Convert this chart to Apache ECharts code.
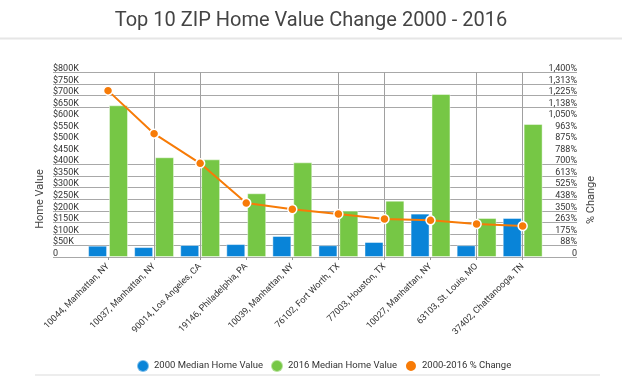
<!DOCTYPE html>
<html>
<head>
<meta charset="utf-8">
<script src="https://cdn.jsdelivr.net/npm/echarts@6/dist/echarts.min.js"></script>
<style>
html,body{margin:0;padding:0;background:#fff;}
#chart{width:622px;height:387px;}
</style>
</head>
<body>
<div id="chart"></div>
<script>
var categories = ['10044, Manhattan, NY','10037, Manhattan, NY','90014, Los Angeles, CA','19146, Philadelphia, PA','10039, Manhattan, NY','76102, Fort Worth, TX','77003, Houston, TX','10027, Manhattan, NY','63103, St. Louis, MO','37402, Chattanooga, TN'];
var value2000 = [49000, 43000, 52000, 56000, 91000, 51000, 65000, 188000, 51000, 169000];
var value2016 = [657000, 432000, 423000, 276000, 410000, 201000, 244000, 706000, 169000, 576000];
var pctChange = [1261, 935, 710, 409, 362, 326, 288, 278, 250, 235];
var seriesNames = ['2000 Median Home Value','2016 Median Home Value','2000-2016 % Change'];

var FONT = 'Roboto';
var gridColor = '#a8a8a8';
var yLineColors = [];
for (var i = 0; i <= 16; i++) { yLineColors.push((i >= 9 && i <= 12) ? 'rgba(0,0,0,0)' : gridColor); }
var xLineColors = [];
var visibleX = [3,5,11,13,17,19];
for (var k = 0; k <= 20; k++) { xLineColors.push(visibleX.indexOf(k) >= 0 ? '#a0a0a0' : 'rgba(0,0,0,0)'); }

var chart = echarts.init(document.getElementById('chart'), null, {renderer:'canvas'});
var TOP = 72.3, H = 184.7;
chart.setOption({
  animation: false,
  textStyle: {fontFamily: FONT},
  title: {
    text: 'Top 10 ZIP Home Value Change 2000 - 2016',
    left: 'center', top: 6,
    textStyle: {fontFamily: FONT, fontSize: 20, fontWeight: 'normal', color: '#444'}
  },
  legend: {
    data: seriesNames,
    left: 131, top: 354,
    icon: 'circle', itemWidth: 12, itemHeight: 12, itemGap: 7,
    textStyle: {fontFamily: FONT, fontSize: 9.5, color: '#333', padding: [0,0,0,0]}
  },
  graphic: [
    {type:'rect', shape:{x:0,y:37.5,width:622,height:2}, style:{fill:'#e6e6e6'}},
    {type:'rect', shape:{x:35,y:374.5,width:565,height:1}, style:{fill:'#dcdcdc'}},
    {type:'text', x:40.5, y:199, rotation:Math.PI/2, style:{text:'Home Value', fontFamily:FONT, fontSize:11, fill:'#444', align:'center', verticalAlign:'middle'}},
    {type:'text', x:591, y:200, rotation:Math.PI/2, style:{text:'% Change', fontFamily:FONT, fontSize:11, fill:'#444', align:'center', verticalAlign:'middle'}}
  ],
  grid: [
    {left: 53, right: 45, top: TOP, height: H},
    {left: 85, right: 76.3, top: TOP, height: H}
  ],
  xAxis: [
    {type:'value', gridIndex:0, show:false, min:0, max:1},
    {type:'category', gridIndex:1, data:categories, position:'bottom',
     axisLine:{show:false},
     axisTick:{show:true, alignWithLabel:true, length:3, lineStyle:{color:'#999'}},
     axisLabel:{rotate:45, fontFamily:FONT, fontSize:9, color:'#333', margin:8, interval:0},
     splitLine:{show:false}},
    {type:'value', gridIndex:1, position:'top', min:0, max:20, interval:1,
     axisLine:{show:false}, axisTick:{show:false}, axisLabel:{show:false},
     splitLine:{show:true, lineStyle:{color:xLineColors, width:1}}}
  ],
  yAxis: [
    {type:'value', gridIndex:0, position:'left', min:0, max:800000, interval:50000,
     axisLine:{show:false}, axisTick:{show:false},
     axisLabel:{inside:true, margin:0, fontFamily:FONT, fontSize:9, color:'#333', verticalAlign:'bottom', padding:[0,0,-1,0],
       formatter:function(v){ return v === 0 ? '0' : '$' + (v/1000) + 'K'; }},
     splitLine:{show:true, lineStyle:{color:yLineColors, width:1}}},
    {type:'value', gridIndex:0, position:'right', min:0, max:1400, interval:87.5,
     axisLine:{show:false}, axisTick:{show:false},
     axisLabel:{inside:true, margin:0, fontFamily:FONT, fontSize:9, color:'#333', verticalAlign:'bottom', padding:[0,0,-1,0],
       formatter:function(v){ var r = Math.round(v); return r === 0 ? '0' : r.toLocaleString('en-US') + '%'; }},
     splitLine:{show:false}},
    {type:'value', gridIndex:1, position:'left', min:0, max:800000, show:false, splitLine:{show:false}},
    {type:'value', gridIndex:1, position:'right', min:0, max:1400, show:false, splitLine:{show:false}}
  ],
  series: [
    {name:seriesNames[0], type:'bar', xAxisIndex:1, yAxisIndex:2, data:value2000,
     barWidth:19, barGap:'10%',
     itemStyle:{color:'#0984d8', borderColor:'rgba(255,255,255,0.45)', borderWidth:1}},
    {name:seriesNames[1], type:'bar', xAxisIndex:1, yAxisIndex:2, data:value2016,
     barWidth:19, barGap:'10%',
     itemStyle:{color:'#76c745', borderColor:'rgba(255,255,255,0.45)', borderWidth:1}},
    {name:seriesNames[2], type:'line', xAxisIndex:1, yAxisIndex:3, data:pctChange,
     symbol:'circle', symbolSize:9, z:5,
     lineStyle:{color:'#f77b07', width:2},
     itemStyle:{color:'#f77b07', borderColor:'#fff', borderWidth:1.5}}
  ]
});
</script>
</body>
</html>
